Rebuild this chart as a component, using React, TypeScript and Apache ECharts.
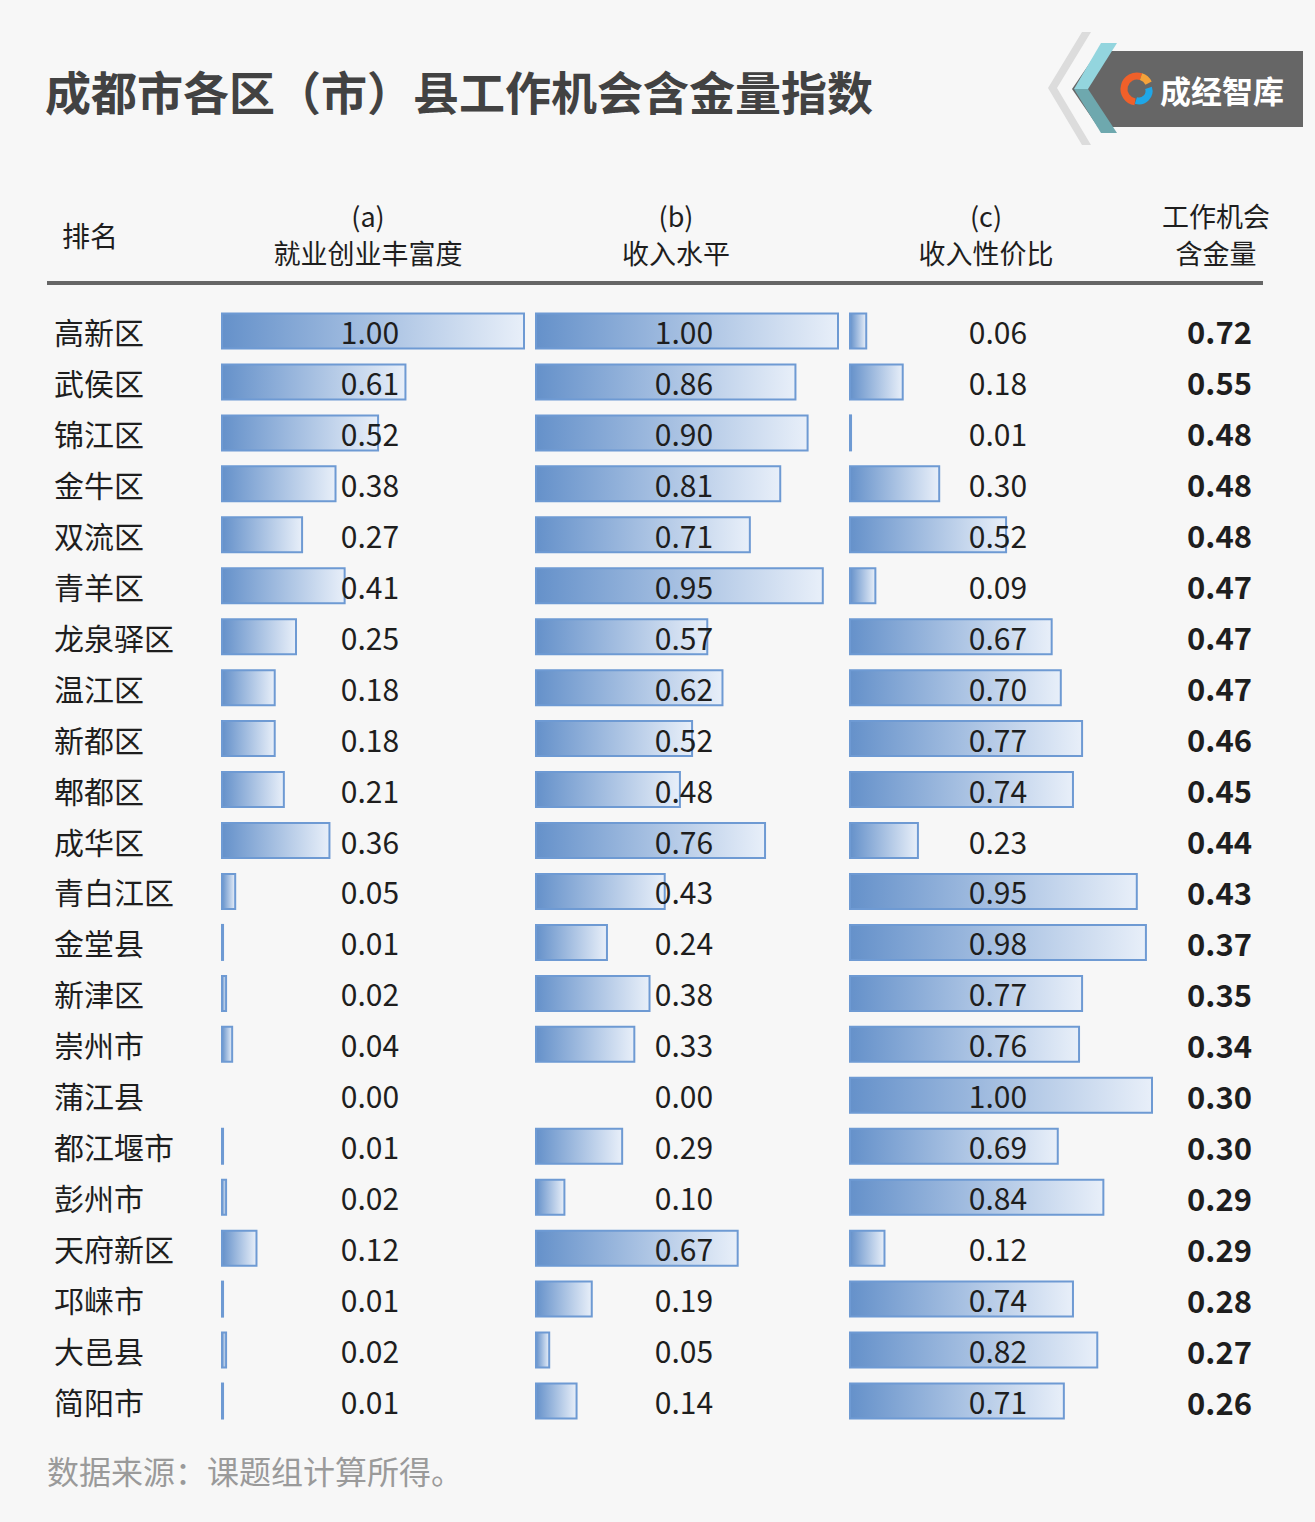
import React, { useEffect, useRef } from "react";
import * as echarts from "echarts";

const districts = ["高新区", "武侯区", "锦江区", "金牛区", "双流区", "青羊区", "龙泉驿区", "温江区", "新都区", "郫都区", "成华区", "青白江区", "金堂县", "新津区", "崇州市", "蒲江县", "都江堰市", "彭州市", "天府新区", "邛崃市", "大邑县", "简阳市"];
const richness = [1.0, 0.61, 0.52, 0.38, 0.27, 0.41, 0.25, 0.18, 0.18, 0.21, 0.36, 0.05, 0.01, 0.02, 0.04, 0.0, 0.01, 0.02, 0.12, 0.01, 0.02, 0.01];
const income = [1.0, 0.86, 0.9, 0.81, 0.71, 0.95, 0.57, 0.62, 0.52, 0.48, 0.76, 0.43, 0.24, 0.38, 0.33, 0.0, 0.29, 0.1, 0.67, 0.19, 0.05, 0.14];
const valueRatio = [0.06, 0.18, 0.01, 0.3, 0.52, 0.09, 0.67, 0.7, 0.77, 0.74, 0.23, 0.95, 0.98, 0.77, 0.76, 1.0, 0.69, 0.84, 0.12, 0.74, 0.82, 0.71];
const goldIndex = [0.72, 0.55, 0.48, 0.48, 0.48, 0.47, 0.47, 0.47, 0.46, 0.45, 0.44, 0.43, 0.37, 0.35, 0.34, 0.3, 0.3, 0.29, 0.29, 0.28, 0.27, 0.26];
const headerTop = ["(a)", "(b)", "(c)", "工作机会"];
const headerBottom = ["就业创业丰富度", "收入水平", "收入性价比", "含金量"];

const FONT = "'Noto Sans CJK SC', 'Noto Sans', sans-serif";

export default function App() {
  const ref = useRef<HTMLDivElement>(null);
  useEffect(() => {
    document.body.style.margin = "0";
    const chart = echarts.init(ref.current!, null, { renderer: "svg" });
    const gridTop = 305.5;
    const gridH = 1121;
    const panelLefts = [221, 535, 849];
    const panelW = 304;
    const headerX = [368, 676, 986, 1216];
    const grad = () =>
      new echarts.graphic.LinearGradient(0, 0, 1, 0, [
        { offset: 0, color: "#6591ca" },
        { offset: 1, color: "#e8eff9" },
      ]);
    const makeSeries = (vals: number[], idx: number) => ({
      type: "bar",
      xAxisIndex: idx,
      yAxisIndex: idx,
      barWidth: 37,
      data: vals.map((v) => ({
        value: v,
        itemStyle: v === 0 ? { borderWidth: 0 } : undefined,
      })),
      itemStyle: { color: grad(), borderColor: "#6e9ad3", borderWidth: 2 },
      label: {
        show: true,
        position: [149, "50%"],
        align: "center",
        verticalAlign: "middle",
        fontSize: 30,
        fontFamily: FONT,
        color: "#1e1e1e",
        formatter: (p: any) => Number(p.value).toFixed(2),
      },
    });
    const hiddenX = (i: number) => ({
      type: "value",
      gridIndex: i,
      min: 0,
      max: 1,
      show: false,
    });
    const headerText = (t: string, x: number, y: number) => ({
      type: "text",
      x,
      y,
      style: { text: t, fontSize: 27, fontFamily: FONT, fill: "#1e1e1e", align: "center", verticalAlign: "middle" },
    });
    const option: any = {
      animation: false,
      backgroundColor: "#f7f7f7",
      title: {
        text: "成都市各区（市）县工作机会含金量指数",
        left: 40,
        top: 62,
        textStyle: { fontSize: 46, fontWeight: "bold", color: "#424242", fontFamily: FONT },
      },
      grid: panelLefts.map((l) => ({ left: l, top: gridTop, width: panelW, height: gridH })),
      xAxis: [0, 1, 2].map(hiddenX),
      yAxis: [
        {
          type: "category",
          gridIndex: 0,
          inverse: true,
          data: districts,
          axisLine: { show: false },
          axisTick: { show: false },
          axisLabel: {
            align: "left",
            margin: 167,
            fontSize: 30,
            fontFamily: FONT,
            color: "#1e1e1e",
          },
        },
        {
          type: "category",
          gridIndex: 1,
          inverse: true,
          data: districts,
          axisLine: { show: false },
          axisTick: { show: false },
          axisLabel: { show: false },
        },
        {
          type: "category",
          gridIndex: 2,
          inverse: true,
          position: "right",
          data: districts,
          axisLine: { show: false },
          axisTick: { show: false },
          axisLabel: {
            align: "right",
            margin: 99,
            fontSize: 31,
            fontWeight: "bold",
            fontFamily: FONT,
            color: "#1e1e1e",
            formatter: (_v: string, i: number) => goldIndex[i].toFixed(2),
          },
        },
      ],
      series: [makeSeries(richness, 0), makeSeries(income, 1), makeSeries(valueRatio, 2)],
      graphic: [
        { type: "text", x: 62, y: 235, style: { text: "排名", fontSize: 28, fontFamily: FONT, fill: "#1e1e1e", verticalAlign: "middle" } },
        ...headerTop.map((h, i) => headerText(h, headerX[i], 215)),
        ...headerBottom.map((h, i) => headerText(h, headerX[i], 252)),
        { type: "rect", shape: { x: 47, y: 281, width: 1216, height: 4 }, style: { fill: "#666666" } },
        { type: "text", x: 47, y: 1470, style: { text: "数据来源：课题组计算所得。", fontSize: 32, fontFamily: FONT, fill: "#9a9a9a", verticalAlign: "middle" } },
        // logo
        { type: "polygon", shape: { points: [[1082, 32], [1091, 32], [1057, 88], [1091, 145], [1082, 145], [1048, 88]] }, style: { fill: "#dcdcdc" } },
        { type: "polygon", shape: { points: [[1098, 51], [1303, 51], [1303, 127], [1098, 127], [1072, 89]] }, style: { fill: "#666666" } },
        { type: "polygon", shape: { points: [[1101, 43], [1117, 43], [1088, 89], [1074, 89]] }, style: { fill: "#93d5de" } },
        { type: "polygon", shape: { points: [[1074, 89], [1088, 89], [1117, 133], [1101, 133]] }, style: { fill: "#6ea8ae" } },
        { type: "arc", shape: { cx: 1137, cy: 89, r: 13, startAngle: Math.PI * 0.55, endAngle: Math.PI * 1.6 }, style: { stroke: "#f0602a", lineWidth: 7, fill: "none" } },
        { type: "arc", shape: { cx: 1137, cy: 89, r: 13, startAngle: Math.PI * 1.6, endAngle: Math.PI * 1.85 }, style: { stroke: "#f5a23a", lineWidth: 7, fill: "none" } },
        { type: "arc", shape: { cx: 1139, cy: 91, r: 10, startAngle: -Math.PI * 0.1, endAngle: Math.PI * 0.6 }, style: { stroke: "#1fa7e8", lineWidth: 7, fill: "none" } },
        { type: "text", x: 1160, y: 89, style: { text: "成经智库", fontSize: 31, fontWeight: "bold", fontFamily: FONT, fill: "#ffffff", verticalAlign: "middle" } },
      ],
    };
    chart.setOption(option);
    return () => chart.dispose();
  }, []);
  return <div ref={ref} style={{ width: 1315, height: 1522 }} />;
}
